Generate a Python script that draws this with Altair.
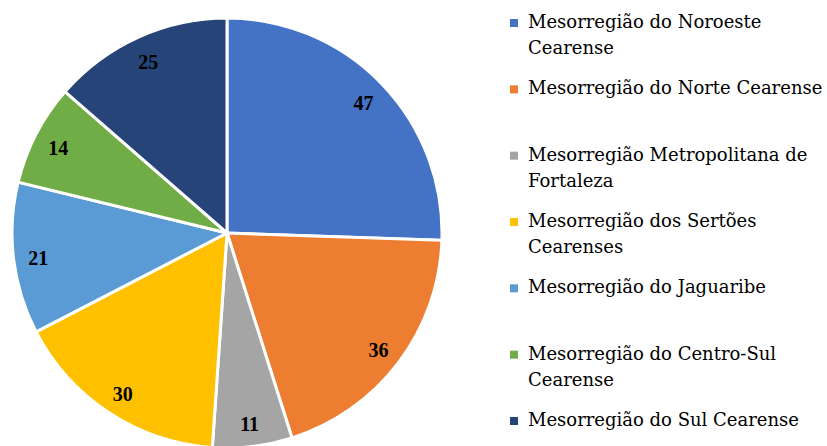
import altair as alt
import pandas as pd

categories = [
    "Mesorregião do Noroeste Cearense",
    "Mesorregião do Norte Cearense",
    "Mesorregião Metropolitana de Fortaleza",
    "Mesorregião dos Sertões Cearenses",
    "Mesorregião do Jaguaribe",
    "Mesorregião do Centro-Sul Cearense",
    "Mesorregião do Sul Cearense",
]
values = [47, 36, 11, 30, 21, 14, 25]
legend_labels = [
    "Mesorregião do Noroeste\nCearense",
    "Mesorregião do Norte Cearense",
    "Mesorregião Metropolitana de\nFortaleza",
    "Mesorregião dos Sertões\nCearenses",
    "Mesorregião do Jaguaribe",
    "Mesorregião do Centro-Sul\nCearense",
    "Mesorregião do Sul Cearense",
]
colors = ["#4472C4", "#ED7D31", "#A5A5A5", "#FFC000", "#5B9BD5", "#70AD47", "#264478"]

df = pd.DataFrame({
    "cat": categories,
    "val": values,
    "idx": list(range(len(categories))),
    "leg": legend_labels,
})

NUM_FONT = "Liberation Serif"
LEG_FONT = "DejaVu Serif"
color = alt.Color("cat:N", scale=alt.Scale(domain=categories, range=colors), legend=None)
CX, CY = 227, 233

base = alt.Chart(df)

arcs = base.mark_arc(outerRadius=215, stroke="white", strokeWidth=3).encode(
    theta=alt.Theta("val:Q", stack=True),
    order=alt.Order("idx:Q"),
    color=color,
    x=alt.value(CX),
    y=alt.value(CY),
)

labels = base.mark_text(
    radius=190, font=NUM_FONT, fontSize=20, fontWeight="bold", color="black", dy=3
).encode(
    theta=alt.Theta("val:Q", stack=True),
    order=alt.Order("idx:Q"),
    text="val:Q",
    x=alt.value(CX),
    y=alt.value(CY),
)

ypos = alt.Y("idx:O", scale=alt.Scale(range=[23, 421], padding=0), axis=None)

leg_sq = base.mark_square(size=64, opacity=1).encode(
    x=alt.value(514),
    y=ypos,
    color=color,
)

leg_txt = base.mark_text(
    align="left", baseline="middle", font=LEG_FONT, fontSize=18,
    lineBreak="\n", lineHeight=26, color="black"
).encode(
    x=alt.value(528),
    y=ypos,
    text="leg:N",
)

chart = alt.layer(arcs, labels, leg_sq, leg_txt).properties(
    width=827, height=446, padding=0, autosize=alt.AutoSizeParams(type="none")
).configure_view(stroke=None)

chart.save("out.html", embed_options={"renderer": "svg", "actions": False})
